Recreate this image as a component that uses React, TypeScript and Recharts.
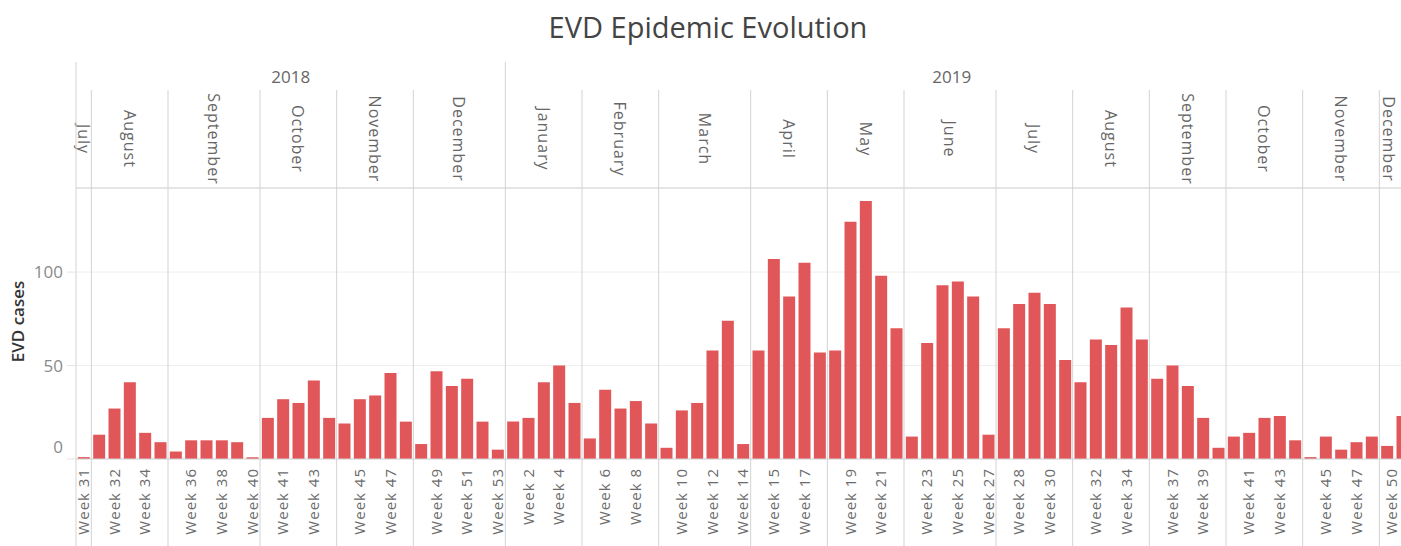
import { BarChart, Bar, XAxis, YAxis, CartesianGrid, ReferenceLine, ReferenceArea } from "recharts";

// one entry per month pane, left to right
const monthNames = [
  "July", "August", "September", "October", "November", "December",
  "January", "February", "March", "April", "May", "June",
  "July", "August", "September", "October", "November", "December",
];
const monthYears = [
  "2018", "2018", "2018", "2018", "2018", "2018",
  "2019", "2019", "2019", "2019", "2019", "2019",
  "2019", "2019", "2019", "2019", "2019", "2019",
];
const monthWeeks = [
  [31],
  [31, 32, 33, 34, 35],
  [35, 36, 37, 38, 39, 40],
  [40, 41, 42, 43, 44],
  [44, 45, 46, 47, 48],
  [48, 49, 50, 51, 52, 53],
  [1, 2, 3, 4, 5],
  [5, 6, 7, 8, 9],
  [9, 10, 11, 12, 13, 14],
  [14, 15, 16, 17, 18],
  [18, 19, 20, 21, 22],
  [22, 23, 24, 25, 26, 27],
  [27, 28, 29, 30, 31],
  [31, 32, 33, 34, 35],
  [36, 37, 38, 39, 40],
  [40, 41, 42, 43, 44],
  [44, 45, 46, 47, 48],
  [49, 50],
];
const monthCases = [
  [1],
  [13, 27, 41, 14, 9],
  [4, 10, 10, 10, 9, 1],
  [22, 32, 30, 42, 22],
  [19, 32, 34, 46, 20],
  [8, 47, 39, 43, 20, 5],
  [20, 22, 41, 50, 30],
  [11, 37, 27, 31, 19],
  [6, 26, 30, 58, 74, 8],
  [58, 107, 87, 105, 57],
  [58, 127, 138, 98, 70],
  [12, 62, 93, 95, 87, 13],
  [70, 83, 89, 83, 53],
  [41, 64, 61, 81, 64],
  [43, 50, 39, 22, 6],
  [12, 14, 22, 23, 10],
  [1, 12, 5, 9, 12],
  [7, 23],
];
// week labels that Tableau kept on the axis
const labelledWeeks = [
  [31], [32, 34], [36, 38, 40], [41, 43], [45, 47], [49, 51, 53],
  [2, 4], [6, 8], [10, 12, 14], [15, 17], [19, 21], [23, 25, 27],
  [28, 30], [32, 34], [37, 39], [41, 43], [45, 47], [50],
];
const years = ["2018", "2019"];
const yTicks = [0, 50, 100];

const BAR_COLOR = "#e15759";
const LINE_COLOR = "#d3d3d3";
const FONT = '"Open Sans", "Noto Sans", sans-serif';
const VIEW_W = 1401;

// plot geometry (px) used to reach the header rows through the y scale
const PLOT_TOP = 188;
const PLOT_BOTTOM = 459;
const Y_MAX = 145;
const yAt = (px: number) => ((PLOT_BOTTOM - px) / (PLOT_BOTTOM - PLOT_TOP)) * Y_MAX;

type Row = { key: string; week: number; value: number; showLabel: boolean };

const rows: Row[] = [];
const panes = monthNames.map((name, m) => {
  const keys = monthWeeks[m].map((week, i) => {
    const key = `${monthYears[m]}-${m}-${week}`;
    rows.push({ key, week, value: monthCases[m][i], showLabel: labelledWeeks[m].includes(week) });
    return key;
  });
  return { name, year: monthYears[m], first: keys[0], last: keys[keys.length - 1] };
});
const rowByKey = new Map(rows.map((r) => [r.key, r]));

const yearPanes = years.map((year) => {
  const ps = panes.filter((p) => p.year === year);
  return { year, first: ps[0].first, last: ps[ps.length - 1].last };
});

function WeekTick(props: any) {
  const { x, y, payload } = props;
  const row = rowByKey.get(payload.value);
  if (!row || !row.showLabel) return null;
  // keep the last label inside the visible window
  const tx = Math.min(x, VIEW_W - 9);
  return (
    <text
      transform={`translate(${tx},${y}) rotate(-90)`}
      x={-1}
      dy="0.35em"
      textAnchor="end"
      fill="#6b6b6b"
      fontSize={15}
      letterSpacing={1}
      fontFamily={FONT}
    >
      {`Week ${row.week}`}
    </text>
  );
}

function CaseTick(props: any) {
  const { x, y, payload } = props;
  return (
    <text
      x={x}
      y={y}
      dy={payload.value === 0 ? "-0.35em" : "0.35em"}
      textAnchor="end"
      fill="#8a8a8a"
      fontSize={17}
      fontFamily={FONT}
    >
      {payload.value}
    </text>
  );
}

const paneLabel = (text: string, rotate: boolean) => (props: any) => {
  const { x, y, width, height } = props.viewBox;
  // centre on the part of the pane that is on screen
  const right = Math.min(x + width, VIEW_W - 3);
  const cx = (x + right) / 2;
  const cy = y + height / 2;
  return (
    <text
      x={cx}
      y={cy}
      transform={rotate ? `rotate(90 ${cx} ${cy})` : undefined}
      textAnchor="middle"
      dominantBaseline="central"
      fill="#666"
      fontSize={rotate ? 16 : 17}
      letterSpacing={rotate ? 1 : 0}
      fontFamily={FONT}
    >
      {text}
    </text>
  );
};

const axisTitle = (props: any) => {
  const { x, y, height } = props.viewBox;
  const cx = x + 11;
  const cy = y + height / 2 - 2;
  return (
    <text
      x={cx}
      y={cy}
      transform={`rotate(-90 ${cx} ${cy})`}
      textAnchor="middle"
      dominantBaseline="central"
      fill="#333"
      fontSize={17}
      fontWeight={600}
      fontFamily={FONT}
    >
      EVD cases
    </text>
  );
};

export default function App() {
  return (
    <div
      style={{
        position: "absolute",
        left: 0,
        top: 0,
        width: VIEW_W,
        height: 546,
        overflow: "hidden",
        background: "#fff",
      }}
    >
      <div style={{ position: "absolute", left: 0, top: 0 }}>
        <BarChart
          width={1420}
          height={546}
          data={rows}
          margin={{ top: PLOT_TOP, right: 10, bottom: 0, left: 6 }}
          barCategoryGap="12%"
        >
          <CartesianGrid horizontal vertical={false} stroke="#eeeeee" />
          <XAxis
            dataKey="key"
            interval={0}
            height={546 - PLOT_BOTTOM}
            tick={<WeekTick />}
            tickLine={false}
            axisLine={{ stroke: LINE_COLOR }}
          />
          <YAxis
            width={70}
            domain={[0, Y_MAX]}
            ticks={yTicks}
            allowDataOverflow
            tick={<CaseTick />}
            tickSize={9}
            tickMargin={4}
            tickLine={{ stroke: "#e4e4e4" }}
            axisLine={false}
            label={axisTitle}
          />
          <ReferenceLine y={Y_MAX} stroke={LINE_COLOR} ifOverflow="visible" />
          {panes.map((p, m) => {
            const yearStart = m === 0 || panes[m - 1].year !== p.year;
            return (
              <ReferenceLine
                key={`sep-${m}`}
                segment={[
                  { x: p.first, y: yAt(yearStart ? 62 : 90) },
                  { x: p.first, y: yAt(546) },
                ]}
                position="start"
                stroke={LINE_COLOR}
                ifOverflow="visible"
              />
            );
          })}
          {panes.map((p, m) => (
            <ReferenceArea
              key={`month-${m}`}
              x1={p.first}
              x2={p.last}
              y1={yAt(PLOT_TOP)}
              y2={yAt(90)}
              fill="none"
              stroke="none"
              ifOverflow="visible"
              label={paneLabel(p.name, true)}
            />
          ))}
          {yearPanes.map((yp) => (
            <ReferenceArea
              key={`year-${yp.year}`}
              x1={yp.first}
              x2={yp.last}
              y1={yAt(90)}
              y2={yAt(62)}
              fill="none"
              stroke="none"
              ifOverflow="visible"
              label={paneLabel(yp.year, false)}
            />
          ))}
          <Bar dataKey="value" fill={BAR_COLOR} isAnimationActive={false} />
        </BarChart>
      </div>
      <div
        style={{
          position: "absolute",
          left: 0,
          top: 7,
          width: 1416,
          textAlign: "center",
          fontFamily: FONT,
          fontSize: 29,
          color: "#444",
        }}
      >
        EVD Epidemic Evolution
      </div>
    </div>
  );
}
